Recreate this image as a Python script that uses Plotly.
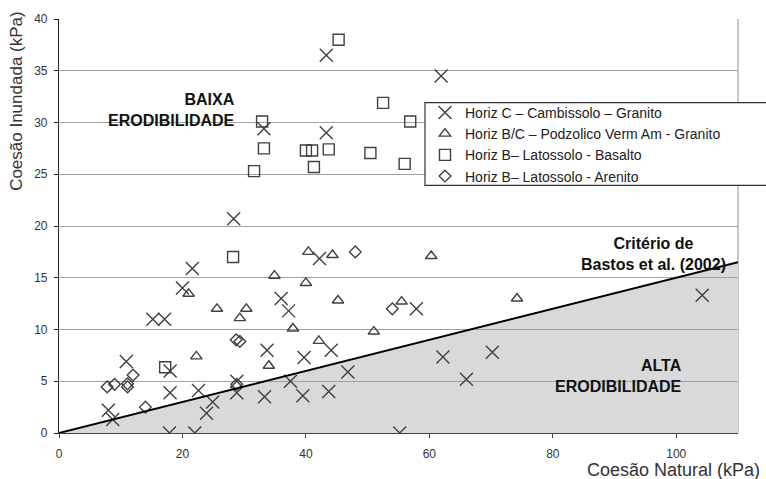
import plotly.graph_objects as go

# Horiz C – Cambissolo – Granito
camb_x = [8.0, 8.7, 10.9, 15.2, 17.1, 18.0, 18.0, 17.9, 20.0, 21.6, 22.0, 22.6, 23.9,
          24.9, 28.3, 28.8, 28.8, 33.2, 33.3, 33.7, 36.0, 37.2, 37.5, 39.5, 39.7, 42.2,
          43.3, 43.3, 43.7, 44.1, 46.8, 55.2, 57.9, 61.9, 62.2, 66.0, 70.2, 104.2]
camb_y = [2.2, 1.3, 6.9, 11.0, 11.0, 6.0, 3.9, 0.0, 14.0, 15.9, 0.0, 4.1, 1.9,
          3.0, 20.7, 5.0, 3.9, 29.4, 3.5, 8.0, 13.0, 11.8, 5.0, 3.6, 7.3, 16.85,
          36.5, 29.0, 4.0, 8.0, 5.9, 0.0, 12.0, 34.5, 7.35, 5.2, 7.8, 13.3]

# Horiz B/C – Podzolico Verm Am - Granito
podz_x = [21.0, 22.25, 25.6, 29.3, 30.35, 34.0, 34.9, 37.9, 40.0, 40.4, 42.1, 44.3,
          45.2, 51.0, 55.5, 60.3, 74.2]
podz_y = [13.45, 7.4, 12.0, 11.1, 12.0, 6.5, 15.2, 10.1, 14.5, 17.5, 8.9, 17.2,
          12.8, 9.8, 12.7, 17.1, 13.0]

# Horiz B – Latossolo - Basalto
basa_x = [17.2, 28.2, 31.6, 32.9, 33.2, 40.0, 41.0, 41.3, 43.7, 45.3, 50.45, 52.5, 56.0, 56.9]
basa_y = [6.35, 17.0, 25.3, 30.1, 27.5, 27.3, 27.3, 25.7, 27.4, 38.0, 27.05, 31.9, 26.0, 30.1]

# Horiz B – Latossolo - Arenito
aren_x = [7.8, 9.0, 11.1, 11.1, 12.0, 14.0, 28.7, 29.3, 28.8, 48.0, 54.0]
aren_y = [4.45, 4.7, 4.75, 4.45, 5.6, 2.5, 9.0, 8.85, 4.7, 17.5, 12.0]

# Critério de Bastos et al. (2002): c_inundada = 0.15 * c_natural
criterio_slope = 0.15
criterio_x = [0, 110]
criterio_y = [criterio_slope * v for v in criterio_x]

x_ticks = [0, 20, 40, 60, 80, 100]
y_ticks = [0, 5, 10, 15, 20, 25, 30, 35, 40]

MARK = "#404040"
FONT = "Liberation Sans, Arial, sans-serif"

fig = go.Figure()

series = [
    ("Horiz C – Cambissolo – Granito", camb_x, camb_y, "x-thin-open", 13),
    ("Horiz B/C – Podzolico Verm Am - Granito", podz_x, podz_y, "triangle-up-open", 10),
    ("Horiz B– Latossolo - Basalto", basa_x, basa_y, "square-open", 11),
    ("Horiz B– Latossolo - Arenito", aren_x, aren_y, "diamond-open", 9),
]
for name, xs, ys, sym, size in series:
    fig.add_trace(go.Scatter(
        x=xs, y=ys, mode="markers", name=name,
        marker=dict(symbol=sym, size=size, color=MARK,
                    line=dict(color=MARK, width=1.4)),
    ))

# criterion line
fig.add_trace(go.Scatter(
    x=criterio_x, y=criterio_y, mode="lines", showlegend=False,
    line=dict(color="black", width=2), hoverinfo="skip",
))

# shaded "alta erodibilidade" region under the criterion line (below gridlines)
region_path = "M {0},{1} L {2},{1} L {2},{3} Z".format(
    criterio_x[0], criterio_y[0], criterio_x[1], criterio_y[1])
shapes = [
    dict(type="path", path=region_path, xref="x", yref="y",
         fillcolor="#d9d9d9", line=dict(width=0), layer="below"),
    # right frame edge
    dict(type="line", xref="paper", yref="paper", x0=1, x1=1, y0=0, y1=1,
         line=dict(color="#a0a0a0", width=1.2), layer="below"),
    # legend frame
    dict(type="rect", xref="paper", yref="paper", x0=0.539, x1=1.07, y0=0.598, y1=0.798,
         fillcolor="white", line=dict(color="#333333", width=1.2), layer="above"),
]

annotations = [
    dict(text="<b>BAIXA<br>ERODIBILIDADE</b>", x=28.9, y=31.2, xref="x", yref="y",
         xanchor="right", yanchor="middle", align="right", showarrow=False,
         font=dict(family=FONT, size=16, color="#111111")),
    dict(text="<b>Critério de<br>Bastos et al. (2002)</b>", x=96.3, y=17.3, xref="x", yref="y",
         xanchor="center", yanchor="middle", align="center", showarrow=False,
         font=dict(family=FONT, size=16, color="#111111")),
    dict(text="<b>ALTA<br>ERODIBILIDADE</b>", x=101.3, y=5.55, xref="x", yref="y",
         xanchor="right", yanchor="middle", align="right", showarrow=False,
         font=dict(family=FONT, size=16, color="#111111")),
    dict(text="Coesão Inundada (kPa)", textangle=-90, x=-0.062, y=0.802,
         xref="paper", yref="paper", xanchor="center", yanchor="middle", showarrow=False,
         font=dict(family=FONT, size=17, color="#333333")),
    dict(text="Coesão Natural (kPa)", x=1.035, y=-0.0905, xref="paper", yref="paper",
         xanchor="right", yanchor="middle", showarrow=False,
         font=dict(family=FONT, size=18, color="#333333")),
]

fig.update_layout(
    width=766, height=479,
    margin=dict(l=59, r=28, t=13, b=46),
    paper_bgcolor="white", plot_bgcolor="white",
    font=dict(family=FONT, size=12, color="#333333"),
    showlegend=True,
    legend=dict(x=0.539, y=0.812, xanchor="left", yanchor="top",
                bgcolor="rgba(0,0,0,0)", borderwidth=0, itemwidth=30,
                font=dict(family=FONT, size=14, color="#222222"),
                tracegroupgap=0),
    shapes=shapes,
    annotations=annotations,
    xaxis=dict(range=[0, 110], tickvals=x_ticks, showgrid=False, zeroline=False,
               showline=True, linecolor="#444444", linewidth=1.2,
               ticks="outside", ticklen=4, tickcolor="#444444",
               ticklabelstandoff=5, tickfont=dict(size=12, color="#333333")),
    yaxis=dict(range=[0, 40], tickvals=y_ticks, showgrid=True, gridcolor="#a0a0a0",
               gridwidth=1.2, zeroline=False, showline=True, linecolor="#222222",
               linewidth=1.2, ticks="outside", ticklen=4, tickcolor="#222222",
               ticklabelstandoff=4, tickfont=dict(size=12, color="#333333")),
)

fig.write_html("out.html")
